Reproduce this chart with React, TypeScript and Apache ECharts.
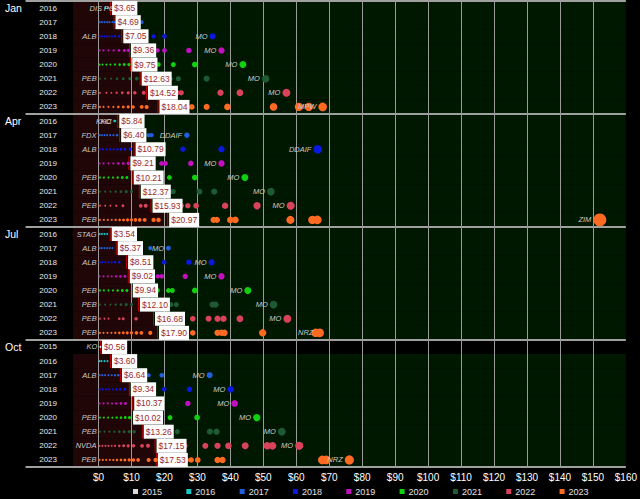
import React, { useEffect, useRef } from "react";
import * as echarts from "echarts";

// ---------- data ----------
const monthNames = ["Jan", "Apr", "Jul", "Oct"];

const janYears = [2016, 2017, 2018, 2019, 2020, 2021, 2022, 2023];
const janAverages = [3.65, 4.69, 7.05, 9.36, 9.75, 12.63, 14.52, 18.04];
const janDots = [
  [2.0, 2.8, 3.9, 5.9],
  [0.3, 1.0, 1.8, 2.6, 3.3, 4.2, 4.9, 12.0, 13.1],
  [0.3, 1.0, 1.8, 2.6, 3.3, 4.1, 5.0, 6.2, 16.7, 20.0, 34.6],
  [0.3, 1.5, 3.0, 4.6, 6.2, 7.8, 9.0, 17.9, 20.0, 27.4, 37.3],
  [0.3, 1.2, 2.4, 3.6, 5.0, 6.4, 7.8, 9.2, 16.7, 18.2, 22.7, 29.2, 43.8],
  [0.4, 2.0, 3.8, 5.6, 7.5, 9.5, 11.6, 20.3, 21.8, 24.2, 32.8, 50.7],
  [0.4, 2.4, 3.9, 5.5, 7.2, 9.0, 11.0, 13.7, 22.1, 23.9, 25.1, 37.0, 42.9, 57.0],
  [0.4, 1.5, 3.0, 4.5, 6.0, 7.5, 9.0, 10.5, 13.1, 14.6, 25.6, 28.3, 32.8, 39.1, 53.1, 60.8, 63.8, 68.0],
];
const janLowLabels = ["DIS", "", "ALB", "", "", "PEB", "PEB", "PEB"];
const janHighLabels = ["PG", "", "MO", "MO", "MO", "MO", "MO", "MPW"];

const aprYears = [2016, 2017, 2018, 2019, 2020, 2021, 2022, 2023];
const aprAverages = [5.84, 6.4, 10.79, 9.21, 10.21, 12.37, 15.93, 20.97];
const aprDots = [
  [4.8, 5.0],
  [0.3, 1.0, 1.8, 2.6, 3.5, 4.5, 5.6, 15.2, 16.1, 26.8],
  [0.3, 1.3, 2.4, 3.5, 4.6, 5.7, 6.8, 8.0, 9.6, 25.6, 37.3, 66.5],
  [0.3, 1.5, 3.0, 4.5, 6.0, 7.5, 9.0, 19.1, 20.3, 28.0, 37.3],
  [0.4, 1.6, 3.0, 4.4, 5.8, 7.2, 8.6, 21.5, 29.2, 44.4],
  [0.4, 2.0, 3.6, 5.2, 6.8, 8.4, 10.0, 21.2, 22.1, 22.7, 30.6, 35.1, 52.3],
  [0.4, 2.0, 3.6, 5.4, 7.4, 12.8, 14.3, 25.1, 27.1, 29.6, 38.4, 48.1, 58.3],
  [0.4, 1.6, 2.8, 4.0, 5.2, 6.4, 7.6, 8.8, 10.0, 11.2, 12.5, 14.0, 16.7, 18.2, 28.9, 34.9, 35.9, 40.0, 41.5, 58.2, 64.9, 66.4, 152.1],
];
const aprLowLabels = ["KO", "FDX", "ALB", "", "PEB", "PEB", "PEB", "PEB"];
const aprHighLabels = ["KHC", "DDAIF", "DDAIF", "MO", "MO", "MO", "MO", "ZIM"];

const julYears = [2016, 2017, 2018, 2019, 2020, 2021, 2022, 2023];
const julAverages = [3.54, 5.37, 8.51, 9.02, 9.94, 12.1, 16.68, 17.9];
const julDots = [
  [0.3, 1.0, 1.8, 2.6, 10.7],
  [0.3, 1.0, 1.8, 2.6, 3.4, 4.2, 15.7, 21.2],
  [0.3, 1.1, 2.0, 3.0, 4.0, 5.0, 6.3, 16.1, 19.9, 27.4, 34.3],
  [0.3, 1.5, 2.8, 4.0, 5.3, 6.6, 8.0, 18.0, 19.2, 26.3, 37.3],
  [0.4, 1.6, 3.0, 4.4, 5.8, 7.2, 8.6, 17.9, 21.2, 22.4, 29.2, 45.3],
  [0.4, 2.0, 3.6, 5.2, 6.8, 8.4, 10.0, 20.6, 22.0, 23.6, 34.6, 35.5, 53.1],
  [0.4, 1.8, 3.0, 6.3, 7.5, 11.4, 24.0, 28.6, 33.4, 36.1, 37.9, 42.9, 57.3],
  [0.4, 1.5, 2.7, 3.9, 5.1, 6.3, 7.5, 8.7, 10.0, 11.5, 13.0, 15.7, 28.6, 36.1, 37.3, 38.2, 49.8, 65.9, 67.1],
];
const julLowLabels = ["STAG", "ALB", "ALB", "", "PEB", "PEB", "PEB", "PEB"];
const julHighLabels = ["", "MO", "MO", "MO", "MO", "MO", "MO", "NRZ"];

const octYears = [2015, 2016, 2017, 2018, 2019, 2020, 2021, 2022, 2023];
const octAverages = [0.56, 3.6, 6.64, 9.34, 10.37, 10.02, 13.26, 17.15, 17.53];
const octDots = [
  [0.56],
  [0.3, 0.9, 1.8, 2.7, 11.0],
  [0.3, 1.1, 2.0, 3.0, 4.0, 5.0, 6.0, 15.2, 19.2, 33.7],
  [0.3, 1.2, 2.2, 3.2, 4.3, 5.4, 6.6, 8.0, 19.9, 27.6, 40.1],
  [0.3, 1.5, 2.8, 4.1, 5.4, 6.8, 8.2, 18.7, 27.1, 41.3],
  [0.4, 1.6, 2.9, 4.2, 5.5, 6.8, 8.1, 9.4, 18.7, 21.7, 29.9, 48.0],
  [0.4, 1.8, 3.3, 4.8, 6.3, 7.8, 9.3, 10.8, 21.7, 23.9, 33.8, 35.8, 55.6],
  [0.3, 1.2, 2.1, 3.0, 4.0, 5.0, 6.3, 7.6, 9.0, 10.6, 13.2, 15.0, 26.2, 32.4, 36.1, 39.4, 44.5, 51.2, 52.8, 60.9],
  [0.3, 1.3, 2.3, 3.4, 4.5, 5.6, 6.8, 8.0, 9.3, 10.6, 12.0, 15.2, 17.3, 25.1, 26.6, 28.1, 30.1, 36.1, 37.6, 67.9, 69.1, 76.1],
];
const octLowLabels = ["KO", "", "ALB", "", "", "PEB", "PEB", "NVDA", "PEB"];
const octHighLabels = ["", "", "MO", "MO", "MO", "MO", "MO", "MO", "NRZ"];

const xTickValues = [0, 10, 20, 30, 40, 50, 60, 70, 80, 90, 100, 110, 120, 130, 140, 150, 160];
const legendYears = ["2015", "2016", "2017", "2018", "2019", "2020", "2021", "2022", "2023"];
const firstShadedYear = 2016;

// ---------- styling ----------
const yearColors: Record<string, string> = {
  "2015": "#d9d9d9",
  "2016": "#18c6c6",
  "2017": "#1f5fe0",
  "2018": "#0a18e0",
  "2019": "#c010c0",
  "2020": "#10d010",
  "2021": "#1e5a34",
  "2022": "#d8425a",
  "2023": "#ff6a22",
};
const FONT = "Liberation Sans, Arial, sans-serif";
const X_MIN = -7.75;
const X_MAX = 160;

type Row = { month: string; year: number; avg: number; dots: number[]; low: string; high: string; groupStart: boolean };

function buildRows(): Row[] {
  const groups = [
    [janYears, janAverages, janDots, janLowLabels, janHighLabels],
    [aprYears, aprAverages, aprDots, aprLowLabels, aprHighLabels],
    [julYears, julAverages, julDots, julLowLabels, julHighLabels],
    [octYears, octAverages, octDots, octLowLabels, octHighLabels],
  ] as any[];
  const rows: Row[] = [];
  groups.forEach((g, gi) => {
    const [years, avgs, dots, lows, highs] = g;
    years.forEach((y: number, i: number) => {
      rows.push({ month: monthNames[gi], year: y, avg: avgs[i], dots: dots[i], low: lows[i], high: highs[i], groupStart: i === 0 });
    });
  });
  return rows;
}

export default function App() {
  const ref = useRef<HTMLDivElement>(null);
  useEffect(() => {
    document.body.style.margin = "0";
    document.body.style.background = "#000";
    const rows = buildRows();
    const chart = echarts.init(ref.current!, undefined, { renderer: "svg" });
    const categories = rows.map((r) => String(r.year));
    const groupStarts = rows.map((r) => r.groupStart);

    const labelStyle = {
      show: true,
      position: "left" as const,
      distance: 2,
      color: "#c8c8c8",
      fontStyle: "italic" as const,
      fontSize: 7.5,
      fontFamily: FONT,
    };

    const yearSeries = legendYears.map((yr) => {
      const data: any[] = [];
      rows.forEach((r, ri) => {
        if (String(r.year) !== yr) return;
        const mn = Math.min(...r.dots);
        const mx = Math.max(...r.dots);
        let lowDone = false;
        let highDone = false;
        r.dots.forEach((v) => {
          let text = "";
          if (!lowDone && v === mn && r.low) {
            text = r.low;
            lowDone = true;
          } else if (!highDone && v === mx && r.high) {
            text = r.high;
            highDone = true;
          }
          data.push(
            text
              ? { value: [v, ri], label: { ...labelStyle, formatter: text } }
              : { value: [v, ri] }
          );
        });
      });
      return {
        name: yr,
        type: "scatter",
        z: 3,
        data,
        itemStyle: { color: yearColors[yr], opacity: 1 },
        symbolSize: (val: number[]) => Math.max(2, Math.sqrt(val[0]) * 1.05),
        emphasis: { disabled: true },
        silent: true,
      };
    });

    const option: any = {
      animation: false,
      backgroundColor: "#000",
      textStyle: { fontFamily: FONT },
      grid: { left: 73, right: 4.5, top: 1, bottom: 32, containLabel: false },
      xAxis: {
        type: "value",
        min: X_MIN,
        max: X_MAX,
        axisLine: { show: false },
        axisTick: { show: false },
        splitLine: { show: false },
        axisLabel: {
          customValues: xTickValues,
          formatter: (v: number) => "$" + v,
          color: "#ffffff",
          fontSize: 10,
          margin: 5,
          fontFamily: FONT,
        },
      },
      yAxis: [
        {
          type: "category",
          data: categories,
          inverse: true,
          z: 2,
          axisLine: { show: true, lineStyle: { color: "#9a9a9a", width: 1 } },
          axisTick: {
            show: true,
            length: 73,
            interval: (i: number) => groupStarts[i],
            lineStyle: { color: "#a0a0a0", width: 2 },
          },
          splitLine: {
            show: true,
            interval: (i: number) => groupStarts[i],
            lineStyle: { color: "#a0a0a0", width: 2 },
          },
          axisLabel: { color: "#e8e8e8", fontSize: 8, margin: 16, fontFamily: FONT, interval: 0 },
        },
        {
          type: "category",
          data: categories,
          inverse: true,
          position: "left",
          axisLine: { show: false },
          axisTick: { show: false },
          splitLine: { show: false },
          axisLabel: {
            interval: 0,
            align: "left",
            margin: 68,
            color: "#ffffff",
            fontSize: 10.5,
            fontFamily: FONT,
            formatter: (_v: string, i: number) => (groupStarts[i] ? rows[i].month : ""),
          },
        },
      ],
      legend: {
        data: legendYears,
        left: 128,
        top: 482,
        icon: "rect",
        itemWidth: 5,
        itemHeight: 5,
        itemGap: 24.3,
        selectedMode: false,
        textStyle: { color: "#e0e0e0", fontSize: 9, fontFamily: FONT, padding: [0, 0, 0, -1] },
      },
      series: [
        {
          type: "custom",
          name: "bands",
          z: 1,
          silent: true,
          clip: false,
          encode: { x: 0, y: 1 },
          data: rows.map((r, i) => [r.avg, i, r.year >= firstShadedYear ? 1 : 0]),
          renderItem: (_params: any, api: any) => {
            const v = api.value(0);
            const row = api.value(1);
            const shaded = api.value(2);
            const c = api.coord([v, row]);
            const l = api.coord([X_MIN, row]);
            const r = api.coord([X_MAX, row]);
            const h = api.size([0, 1], [v, row])[1];
            const top = c[1] - h / 2;
            const children: any[] = [];
            if (shaded) {
              children.push({ type: "rect", shape: { x: l[0], y: top, width: c[0] - l[0], height: h }, style: { fill: "#210608" } });
              children.push({ type: "rect", shape: { x: c[0], y: top, width: r[0] - c[0], height: h }, style: { fill: "#001800" } });
            }
            children.push({ type: "line", shape: { x1: c[0], y1: top, x2: c[0], y2: top + h }, style: { stroke: "#c40000", lineWidth: 1 } });
            return { type: "group", children };
          },
        },
        ...yearSeries,
        {
          type: "scatter",
          name: "avg",
          z: 4,
          symbolSize: 0,
          silent: true,
          itemStyle: { opacity: 1 },
          data: rows.map((r, i) => [r.avg, i]),
          label: {
            show: true,
            position: "right",
            distance: 1.5,
            formatter: (p: any) => "$" + p.value[0].toFixed(2),
            backgroundColor: "#ffffff",
            color: "#9a2a2a",
            fontSize: 8.5,
            fontFamily: FONT,
            padding: [3, 2, 2, 2],
            opacity: 1,
          },
          markLine: {
            silent: true,
            symbol: "none",
            z: 2,
            label: { show: false },
            lineStyle: { color: "#9a9a9a", width: 1, type: "solid", opacity: 1 },
            data: xTickValues.filter((v) => v < X_MAX).map((v) => ({ xAxis: v })),
          },
        },
      ],
    };
    chart.setOption(option);
    return () => chart.dispose();
  }, []);
  return <div ref={ref} style={{ position: "fixed", left: 0, top: 0, width: 640, height: 499, background: "#000" }} />;
}
